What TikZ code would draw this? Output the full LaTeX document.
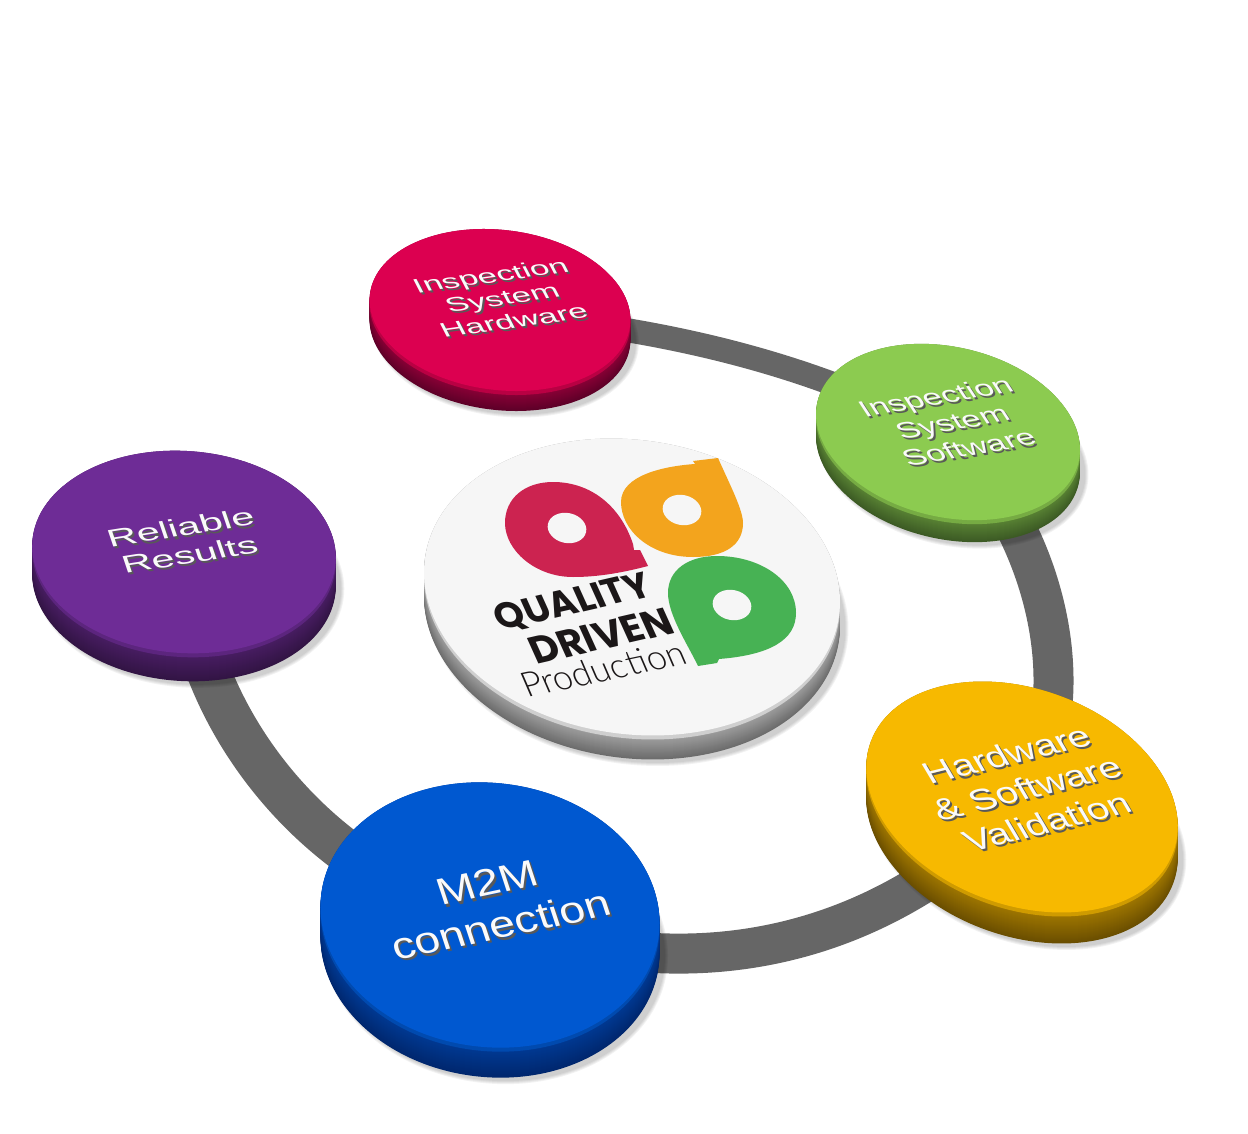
\documentclass[tikz,border=0pt]{standalone}
\usepackage{fontspec}
\setmainfont{Liberation Sans}
\newfontfamily\logoheavy{Poppins}
\newfontfamily\logothin{Lato Light}
\usetikzlibrary{shapes.geometric, backgrounds, calc}

\definecolor{crimsonface}{HTML}{DC0050}
\definecolor{crimsonside}{HTML}{5E0028}
\definecolor{greenface}{HTML}{8CCB50}
\definecolor{greenside}{HTML}{3C5A24}
\definecolor{yellowface}{HTML}{F7B900}
\definecolor{yellowside}{HTML}{6A4E00}
\definecolor{blueface}{HTML}{0058D0}
\definecolor{blueside}{HTML}{00276E}
\definecolor{purpleface}{HTML}{6E2C96}
\definecolor{purpleside}{HTML}{321444}
\definecolor{whiteface}{HTML}{F6F6F6}
\definecolor{whiteside}{HTML}{6C6C6C}
\definecolor{ringgray}{HTML}{666666}
\definecolor{logored}{HTML}{CC2350}
\definecolor{logoorange}{HTML}{F3A41D}
\definecolor{logogreen}{HTML}{47B254}
\definecolor{logotext}{HTML}{1B1718}

\tikzset{
    discshape/.style={ellipse, inner sep=0pt, outer sep=0pt, rotate=\ang,
        minimum width={2*\rx*1pt}, minimum height={2*\ry*1pt}},
    ringlink/.style={draw=ringgray, line cap=butt},
    logohole/.style={ellipse, fill=whiteface, inner sep=0pt, rotate=-12,
        minimum width=39pt, minimum height=30pt},
    disclabel/.style={align=center, inner sep=0pt},
    logoword/.style={inner sep=0pt, text=logotext, rotate=13, xslant=-.2}
}

% line skip goes with the font size, text comes out squashed by the slant
\newcommand{\disctext}[8]{
    \node[disclabel, text=gray!70!black, rotate=#3, xslant=#4, yscale=#5, font=\fontsize{#6}{#7}\selectfont]
        (#1s) at ($#2+(2,2.2)$) {#8};
    \node[disclabel, text=white!96!gray, rotate=#3, xslant=#4, yscale=#5, font=\fontsize{#6}{#7}\selectfont]
        (#1t) at #2 {#8};
}

\begin{document}
\begin{tikzpicture}[x=1pt, y=-1pt]
    \useasboundingbox (0,0) rectangle (1248,1134);

    % discs: name, centre, radii, tilt, depth, colours
    \foreach \disc/\cx/\cy/\rx/\ry/\ang/\dep/\fc/\sd in {
        hw/500/310/131/80/-7/20/crimsonface/crimsonside,
        sw/948/432/134/85/-13/22/greenface/greenside,
        yl/1022/797/161/108/-20/31/yellowface/yellowside,
        pu/184/552/152/101/-4/28/purpleface/purpleside,
        bl/490/915/170/132/-7/30/blueface/blueside,
        qd/632/587/209/147/-8/24/whiteface/whiteside}
    {
        \foreach \s in {1,3,5,7}
            \node[discshape, fill=black, opacity=.05, minimum width={2*\rx*1pt+\s*1pt}, minimum height={2*\ry*1pt+\s*1pt}]
                (\disc-s\s) at (\cx+5,\cy+\dep+3) {};
        \foreach \k in {\dep,...,0} {
            \pgfmathtruncatemacro\pct{100*\k/\dep}
            \node[discshape, fill=\sd!\pct!\fc!42!\sd] (\disc-\k) at (\cx,\cy+\k) {};
        }
        \node[discshape, fill=\fc!84!black] (\disc) at (\cx,\cy+4) {};
        \node[discshape, fill=\fc] (\disc-top) at (\cx,\cy) {};
    }

    % ring behind the discs
    \begin{pgfonlayer}{background}
        \draw[ringlink, line width=24pt] (hw.center) .. controls (620,325) and (790,350) .. (sw.center);
        \draw[ringlink, line width=40pt] (sw.center) .. controls (1040,520) and (1090,690) .. (yl.center);
        \draw[ringlink, line width=40pt] (yl.center) .. controls (940,890) and (760,1015) .. (bl.center);
        \draw[ringlink, line width=44pt] (bl.center) .. controls (320,880) and (190,720) .. (pu.center);
    \end{pgfonlayer}

    \disctext{hw}{(502,298)}{8}{-.35}{.6}{34}{40}{Inspection\\System\\Hardware}
    \disctext{sw}{(952,422)}{10}{-.43}{.7}{33.5}{40}{Inspection\\System\\Software}
    \disctext{yl}{(1027,788)}{14}{-.30}{.80}{39}{47}{Hardware\\\& Software\\Validation}
    \disctext{pu}{(185,541)}{9}{-.17}{.6}{41}{47}{Reliable\\Results}
    \disctext{bl}{(494,904)}{12}{-.11}{.82}{46}{54}{M2M\\connection}

    % logo
    \fill[logored] (648,566) -- (640,550) -- (634,550) -- (633,544)
        .. controls (620,505) and (590,482) .. (553,482)
        .. controls (525,482) and (505,498) .. (505,523)
        .. controls (505,550) and (535,577) .. (573,577)
        .. controls (600,577) and (625,572) .. (648,566);
    \fill[logoorange] (718,458) -- (693,461) -- (695,464)
        .. controls (665,466) and (621,475) .. (621,502)
        .. controls (621,530) and (650,557) .. (693,557)
        .. controls (725,557) and (743,545) .. (743,523)
        .. controls (743,510) and (730,485) .. (718,458);
    \fill[logogreen] (698,666) -- (717,663) -- (719,659)
        .. controls (770,655) and (796,640) .. (796,613)
        .. controls (796,580) and (760,556) .. (717,556)
        .. controls (688,556) and (668,570) .. (668,593)
        .. controls (668,615) and (688,645) .. (698,666);
    \node[logohole] (holered) at (567,528) {};
    \node[logohole] (holeorange) at (682,510) {};
    \node[logohole] (holegreen) at (732,605) {};

    \node[logoword, font=\logoheavy\bfseries\fontsize{37}{37}\selectfont] (quality) at (573,603) {QUALITY};
    \node[logoword, font=\logoheavy\bfseries\fontsize{39}{39}\selectfont] (driven) at (601,636) {DRIVEN};
    \node[logoword, rotate=-1, font=\logothin\fontsize{35}{35}\selectfont] (production) at (603,669) {Production};
\end{tikzpicture}
\end{document}
